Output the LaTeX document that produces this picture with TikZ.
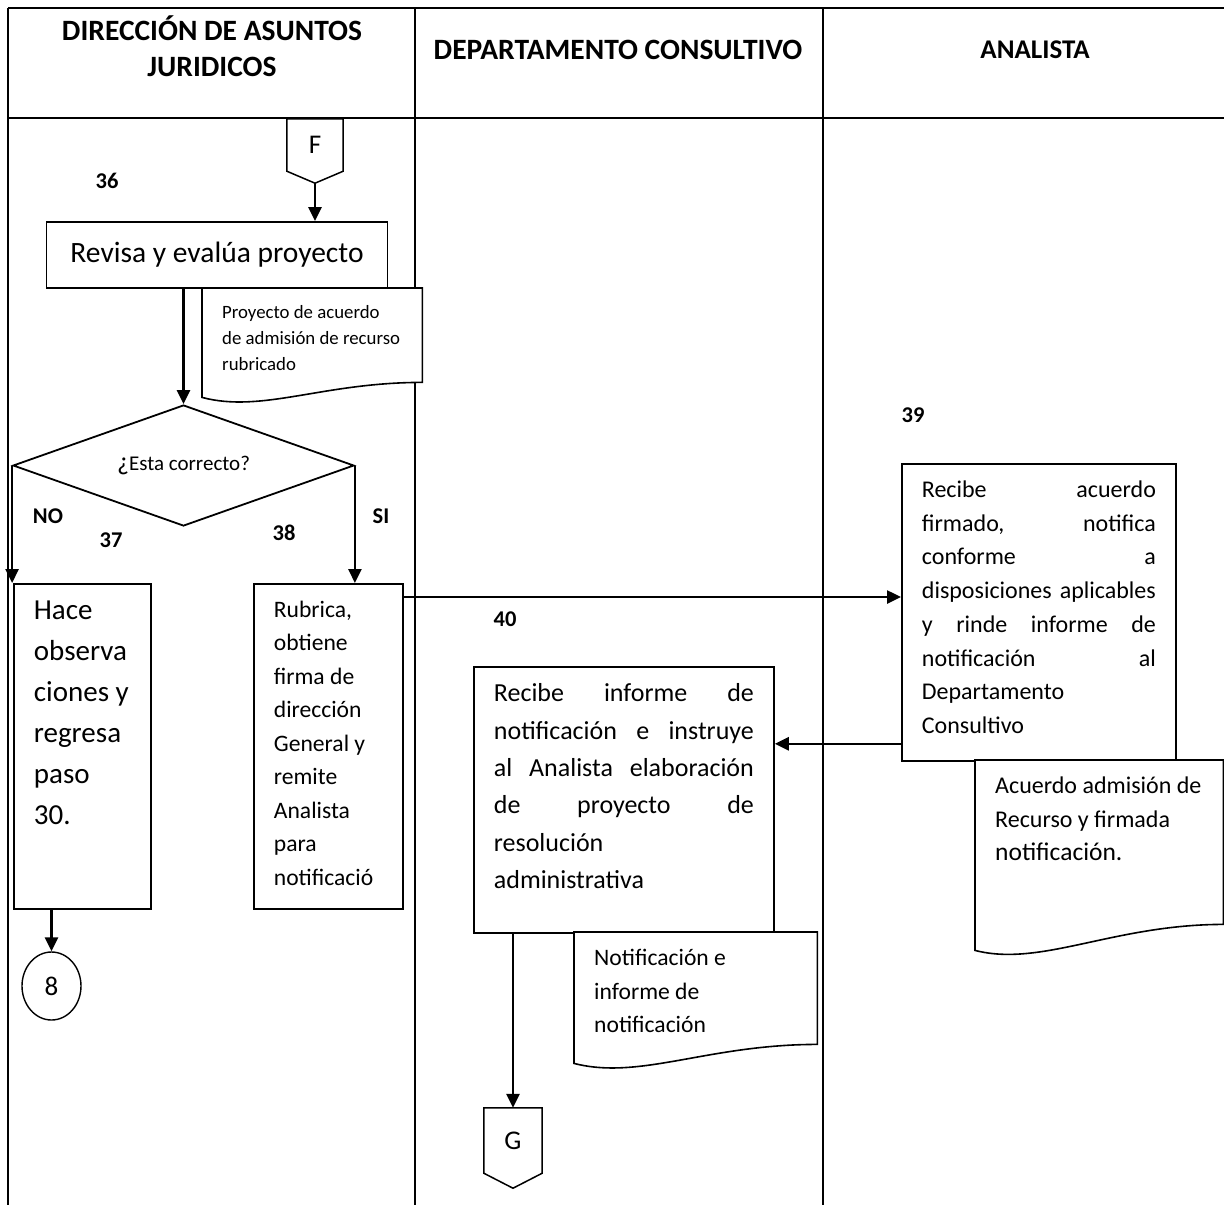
\documentclass[tikz,border=0pt]{standalone}
\usepackage{fontspec}
\setmainfont{Carlito}
\usetikzlibrary{shapes.geometric, arrows.meta, positioning}

% one justified line of a box
\newcommand{\justline}[1]{\makebox[\linewidth][s]{#1}}

\begin{document}
\begin{tikzpicture}[x=1pt, y=-1pt,
  lane/.style={line width=2.2pt},
  hdr/.style={font=\fontsize{29.5}{36}\selectfont\bfseries, align=center},
  num/.style={font=\fontsize{22.5}{26}\selectfont\bfseries},
  proc/.style={draw, line width=1.8pt, fill=white, anchor=north west,
               inner xsep=20pt, inner ysep=17pt},
  docu/.style={fill=white, anchor=north west, inner xsep=20pt, inner ysep=17pt},
  docline/.style={line width=1.6pt},
  conn/.style={inner sep=0pt, font=\fontsize{27}{30}\selectfont},
  arr/.style={-{Triangle[length=14pt,width=13pt]}, line width=2.5pt}]
  \useasboundingbox (0,0) rectangle (1224,1205);

  % swimlanes
  \draw[lane] (8,8) -- (1224,8);
  \draw[lane] (8,118) -- (1224,118);
  \foreach \x in {8,415,823} \draw[lane] (\x,8) -- (\x,1205);
  \node[hdr] (hdrA) at (212,46) {DIRECCIÓN DE ASUNTOS\\JURIDICOS};
  \node[hdr] (hdrB) at (618,50) {DEPARTAMENTO CONSULTIVO};
  \node[hdr, font=\fontsize{27}{36}\selectfont\bfseries] (hdrC) at (1035,50) {ANALISTA};

  % lane 1
  \node[conn, minimum width=56pt, minimum height=52pt] (F) at (315,145) {F};
  \draw[line width=1.5pt] (F.north west) -- (F.south west) -- ([yshift=-12pt]F.south) coordinate (Ftip)
    -- (F.south east) -- (F.north east) -- cycle;
  \node[num] (s36) at (107,181) {36};
  \node[proc, anchor=center, inner sep=0pt, minimum width=341pt, minimum height=66pt,
        font=\fontsize{29.5}{35}\selectfont] (revisa) at (217,255) {Revisa y evalúa proyecto};
  \draw[arr] (Ftip) -- (Ftip |- revisa.north);

  \node[docu, font=\fontsize{18.8}{26}\selectfont] (doc1) at (202,288)
    {\parbox[c][60pt][t]{180pt}{Proyecto de acuerdo\\de admisión de recurso\\rubricado}};
  \draw[docline] (doc1.north west) -- (doc1.north east) -- (doc1.south east)
    .. controls +(-100,0) and +(60,16) .. ([yshift=-15pt]doc1.south west) -- cycle;

  \node[draw, diamond, aspect=2.8, line width=1.8pt, inner sep=0pt, minimum width=341pt,
        minimum height=121pt, font=\fontsize{21}{25}\selectfont] (dec) at (183.5,465.5)
    {{\fontsize{26}{25}\selectfont ¿}Esta correcto?};
  \draw[arr] (dec.north |- revisa.south) -- (dec.north);
  \node[num] (no) at (48,516) {NO};
  \node[num] (si) at (381,516) {SI};
  \node[num] (s37) at (111,540) {37};
  \node[num] (s38) at (284,533) {38};

  \node[proc, font=\fontsize{29}{41}\selectfont] (hace) at (13,583)
    {\parbox[c][291pt][t]{97pt}{Hace\\observa\\ciones y\\regresa\\paso\\30.}};
  \node[proc, font=\fontsize{23.6}{33.5}\selectfont] (rubrica) at (253,583)
    {\parbox[c][291pt][t]{109pt}{Rubrica,\\obtiene\\firma de\\dirección\\General y\\remite\\Analista\\para\\notificació}};
  \draw[arr] (dec.west) -- (dec.west |- hace.north);
  \draw[arr] (dec.east) -- (dec.east |- rubrica.north);

  \node[draw, ellipse, line width=1.4pt, inner sep=0pt, minimum width=59pt, minimum height=68pt,
        font=\fontsize{27}{28}\selectfont] (ofp8) at (51.5,986) {8};
  \draw[arr] (hace.south -| ofp8.north) -- (ofp8.north);

  % lane 3
  \node[num] (s39) at (913,415) {39};
  \node[proc, font=\fontsize{24}{33.7}\selectfont] (recibe) at (901,463)
    {\parbox[c][263pt][t]{234pt}{\justline{Recibe acuerdo}\\\justline{firmado, notifica}\\
      \justline{conforme a}\\\justline{disposiciones aplicables}\\\justline{y rinde informe de}\\
      \justline{notificación al}\\Departamento\\Consultivo}};
  \coordinate (rbout) at ([yshift=-14pt]rubrica.north east);
  \draw[arr] (rbout) -- (rbout -| recibe.west);

  \node[docu, font=\fontsize{24}{33.5}\selectfont] (doc3) at (975,760)
    {\parbox[c][130pt][t]{208pt}{Acuerdo admisión de\\Recurso y firmada\\{\fontsize{25.5}{33.5}\selectfont notificación.}}};
  \draw[docline] (doc3.north west) -- (doc3.north east) -- (doc3.south east)
    .. controls +(-110,0) and +(66,17) .. ([yshift=-26pt]doc3.south west) -- cycle;

  % lane 2
  \node[num] (s40) at (505,619) {40};
  \node[proc, font=\fontsize{26}{37.3}\selectfont] (informe) at (473,666)
    {\parbox[c][232pt][t]{260pt}{\justline{Recibe informe de}\\\justline{notificación e instruye}\\
      \justline{al Analista elaboración}\\\justline{de proyecto de}\\resolución\\administrativa}};
  \coordinate (b3out) at ([yshift=18pt]recibe.south west);
  \draw[arr] (b3out) -- (b3out -| informe.east);

  \node[docu, font=\fontsize{23.6}{33.5}\selectfont] (doc2) at (574,932)
    {\parbox[c][78pt][t]{203pt}{Notificación e\\informe de\\notificación}};
  \draw[docline] (doc2.north west) -- (doc2.north east) -- (doc2.south east)
    .. controls +(-110,0) and +(66,17) .. ([yshift=-19pt]doc2.south west) -- cycle;

  \node[conn, minimum width=58pt, minimum height=65pt] (G) at (513,1140.5) {G};
  \draw[line width=1.5pt] (G.north west) -- (G.south west) -- ([yshift=-15pt]G.south)
    -- (G.south east) -- (G.north east) -- cycle;
  \draw[arr] (informe.south -| G.north) -- (G.north);
\end{tikzpicture}
\end{document}
